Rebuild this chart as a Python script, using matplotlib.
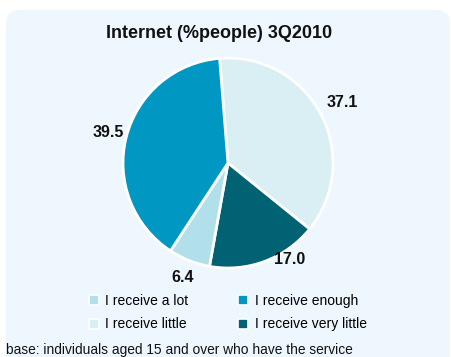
import matplotlib.pyplot as plt
import numpy as np
from matplotlib.patches import FancyBboxPatch
from matplotlib.lines import Line2D

plt.rcParams['font.family'] = ['Liberation Sans', 'DejaVu Sans']

# Shares of internet users by amount of information received, 3Q2010
categories = ['I receive little', 'I receive very little', 'I receive a lot', 'I receive enough']
values = [37.1, 17.0, 6.4, 39.5]
colors = ['#daeff4', '#006273', '#b1e0ea', '#0098c3']
legend_order = ['I receive a lot', 'I receive little', 'I receive enough', 'I receive very little']

W, H = 451, 357
fig = plt.figure(figsize=(W / 100, H / 100), dpi=100)
ax = fig.add_axes([0, 0, 1, 1])
ax.set_xlim(0, W)
ax.set_ylim(0, H)
ax.axis('off')

# panel background with rounded corners
panel = FancyBboxPatch((6, -40), W - 6 - 1, H - 10 + 40,
                       boxstyle='round,pad=0,rounding_size=14',
                       facecolor='#eef6fe', edgecolor='none', zorder=0)
ax.add_patch(panel)

ax.text(219, H - 34, 'Internet (%people) 3Q2010', ha='center', va='center',
        fontsize=13, fontweight='bold', color='#111111')

cx, cy, r = 228, H - 163, 105
wedges, texts = ax.pie(values, colors=colors, startangle=94.6, counterclock=False,
                       center=(cx, cy), radius=r, labels=[f'{v:.1f}' for v in values],
                       labeldistance=1.2,
                       wedgeprops=dict(edgecolor='white', linewidth=2),
                       textprops=dict(fontsize=11.5, fontweight='bold', color='#111111'))
ax.set_xlim(0, W)
ax.set_ylim(0, H)
ax.set_aspect('equal')

# label placement per slice: (radius factor, angle shift in degrees)
placement = [(1.23, 0), (1.09, 12), (1.17, 0), (1.18, 0)]
for w, t, (f, shift) in zip(wedges, texts, placement):
    ang = np.deg2rad((w.theta1 + w.theta2) / 2 + shift)
    t.set_position((cx + f * r * np.cos(ang), cy + f * r * np.sin(ang)))
    t.set_ha('center')
    t.set_va('center')

color_of = dict(zip(categories, colors))
handles = [Line2D([], [], linestyle='none', marker='s', markersize=6.5,
                  markerfacecolor=color_of[c], markeredgecolor='white',
                  markeredgewidth=1.2) for c in legend_order]
ax.legend(handles, legend_order, ncol=2, frameon=False, loc='center',
          bbox_to_anchor=(228, H - 312.5), bbox_transform=ax.transData,
          fontsize=10, handlelength=0.7, handletextpad=0.45, columnspacing=3.6,
          labelspacing=0.7, borderpad=0)

ax.text(6, H - 350, 'base: individuals aged 15 and over who have the service',
        ha='left', va='center', fontsize=9.9, color='#111111')

fig.savefig('out.png', dpi=100)
